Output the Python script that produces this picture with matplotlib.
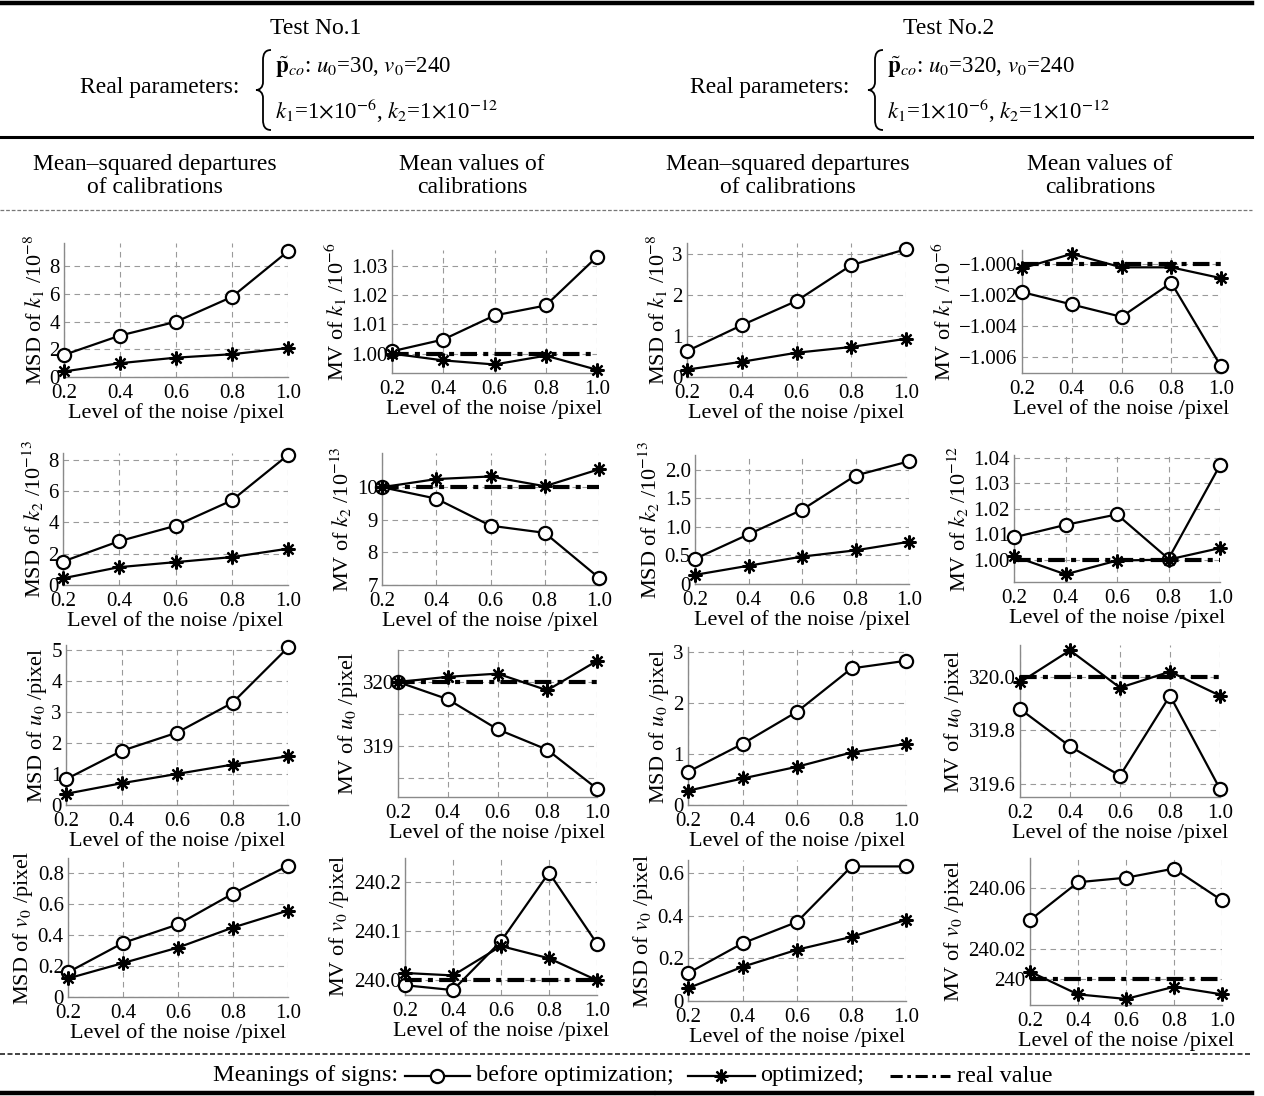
import matplotlib
matplotlib.use('Agg')
import matplotlib.pyplot as plt
from matplotlib.lines import Line2D
from matplotlib.path import Path
from matplotlib.patches import PathPatch

plt.rcParams['font.family'] = ['Liberation Serif', 'DejaVu Serif']
plt.rcParams['mathtext.fontset'] = 'stix'

# -----------------------------
# data
# -----------------------------
noise = [0.2, 0.4, 0.6, 0.8, 1.0]
noise_labels = ['0.2', '0.4', '0.6', '0.8', '1.0']

# Test No.1
t1_msd_k1_before = [1.6, 3.0, 4.0, 5.8, 9.1]
t1_msd_k1_opt = [0.4, 1.0, 1.4, 1.65, 2.1]
t1_mv_k1_before = [1.0008, 1.0048, 1.0130, 1.0164, 1.0330]
t1_mv_k1_opt = [1.0000, 0.9977, 0.9963, 0.9993, 0.9945]
t1_mv_k1_real = 1.0
t1_msd_k2_before = [1.5, 2.8, 3.78, 5.4, 8.3]
t1_msd_k2_opt = [0.43, 1.14, 1.46, 1.78, 2.32]
t1_mv_k2_before = [10.0, 9.65, 8.82, 8.6, 7.22]
t1_mv_k2_opt = [10.0, 10.25, 10.33, 10.03, 10.55]
t1_mv_k2_real = 10.0
t1_msd_u0_before = [0.83, 1.74, 2.33, 3.29, 5.07]
t1_msd_u0_opt = [0.36, 0.70, 1.0, 1.3, 1.57]
t1_mv_u0_before = [320.0, 319.73, 319.26, 318.94, 318.33]
t1_mv_u0_opt = [320.0, 320.08, 320.13, 319.87, 320.33]
t1_mv_u0_real = 320.0
t1_msd_v0_before = [0.16, 0.35, 0.47, 0.67, 0.85]
t1_msd_v0_opt = [0.12, 0.22, 0.32, 0.45, 0.56]
t1_mv_v0_before = [239.99, 239.98, 240.08, 240.22, 240.075]
t1_mv_v0_opt = [240.015, 240.01, 240.07, 240.045, 240.0]
t1_mv_v0_real = 240.0

# Test No.2
t2_msd_k1_before = [0.63, 1.26, 1.85, 2.72, 3.11]
t2_msd_k1_opt = [0.18, 0.37, 0.59, 0.73, 0.93]
t2_mv_k1_before = [-1.0018, -1.0026, -1.0034, -1.0012, -1.0066]
t2_mv_k1_opt = [-1.00026, -0.99933, -1.0002, -1.0002, -1.0009]
t2_mv_k1_real = -1.0
t2_msd_k2_before = [0.44, 0.87, 1.30, 1.90, 2.15]
t2_msd_k2_opt = [0.16, 0.32, 0.48, 0.59, 0.74]
t2_mv_k2_before = [1.0087, 1.0136, 1.0177, 1.0003, 1.037]
t2_mv_k2_opt = [1.0013, 0.9942, 0.9996, 1.0, 1.0045]
t2_mv_k2_real = 1.0
t2_msd_u0_before = [0.65, 1.2, 1.83, 2.68, 2.83]
t2_msd_u0_opt = [0.28, 0.52, 0.75, 1.03, 1.2]
t2_mv_u0_before = [319.88, 319.74, 319.63, 319.93, 319.58]
t2_mv_u0_opt = [319.98, 320.10, 319.96, 320.02, 319.93]
t2_mv_u0_real = 320.0
t2_msd_v0_before = [0.13, 0.27, 0.37, 0.63, 0.63]
t2_msd_v0_opt = [0.06, 0.16, 0.24, 0.30, 0.38]
t2_mv_v0_before = [240.039, 240.064, 240.067, 240.073, 240.052]
t2_mv_v0_opt = [240.005, 239.99, 239.987, 239.995, 239.99]
t2_mv_v0_real = 240.0

W, H = 1264, 1096
fig = plt.figure(figsize=(W / 100, H / 100), dpi=100)


def px_axes(l, t, r, b):
    return fig.add_axes([l / W, 1 - b / H, (r - l) / W, (b - t) / H])


def fx(x):
    return x / W


def fy(y):
    return 1 - y / H


def panel(box, before, opt, real, ylabel, ylim, yticks, yticklabels):
    ax = px_axes(*box)
    ax.plot(noise, before, '-', color='k', lw=1.6, marker='o', ms=9.5,
            mfc='white', mec='k', mew=1.6, clip_on=False, zorder=3)
    ax.plot(noise, opt, '-', color='k', lw=1.6, marker=(8, 2, 0), ms=10,
            mec='k', mew=1.6, clip_on=False, zorder=3)
    if real is not None:
        ax.plot(noise, [real] * len(noise), color='k', lw=3,
                ls=(0, (4, 1.5, 1.2, 1.5)), zorder=4)
    ax.set_xlim(noise[0], noise[-1])
    ax.set_xticks(noise)
    ax.set_xticklabels(noise_labels)
    ax.set_ylim(*ylim)
    ax.set_yticks(yticks)
    ax.set_yticklabels(yticklabels)
    ax.grid(True, ls=(0, (5, 4)), color='#9a9a9a', lw=0.8)
    for s in ['top', 'right']:
        ax.spines[s].set_visible(False)
    for s in ['left', 'bottom']:
        ax.spines[s].set_color('#8a8a8a')
        ax.spines[s].set_linewidth(1.0)
    ax.tick_params(length=0, labelsize=15, pad=3)
    ax.tick_params(axis='x', pad=5)
    ax.set_xlabel('Level of the noise /pixel', fontsize=16, labelpad=0)
    ax.set_ylabel(ylabel, fontsize=16, labelpad=2)
    ax.patch.set_alpha(0)
    return ax


def labs(vals, fmt):
    return [fmt.format(v).replace('-', '\u2212') for v in vals]


# row 1: k1
panel((64, 243, 288, 377), t1_msd_k1_before, t1_msd_k1_opt, None,
      r'MSD of $k_1$ /10$^{-8}$', (0, 9.7), [0, 2, 4, 6, 8], labs([0, 2, 4, 6, 8], '{:g}'))
panel((392, 250, 597, 373), t1_mv_k1_before, t1_mv_k1_opt, t1_mv_k1_real,
      r'MV of $k_1$ /10$^{-6}$', (0.9934, 1.0353), [1.00, 1.01, 1.02, 1.03],
      labs([1.00, 1.01, 1.02, 1.03], '{:.2f}'))
panel((687, 243, 906, 377), t2_msd_k1_before, t2_msd_k1_opt, None,
      r'MSD of $k_1$ /10$^{-8}$', (0, 3.26), [0, 1, 2, 3], labs([0, 1, 2, 3], '{:g}'))
panel((1022, 250, 1221, 373), t2_mv_k1_before, t2_mv_k1_opt, t2_mv_k1_real,
      r'MV of $k_1$ /10$^{-6}$', (-1.00703, -0.99908), [-1.006, -1.004, -1.002, -1.000],
      labs([-1.006, -1.004, -1.002, -1.000], '{:.3f}'))

# row 2: k2
panel((63, 453, 288, 585), t1_msd_k2_before, t1_msd_k2_opt, None,
      r'MSD of $k_2$ /10$^{-13}$', (0, 8.43), [0, 2, 4, 6, 8], labs([0, 2, 4, 6, 8], '{:g}'))
panel((382, 453, 599, 585), t1_mv_k2_before, t1_mv_k2_opt, t1_mv_k2_real,
      r'MV of $k_2$ /10$^{-13}$', (7, 11.05), [7, 8, 9, 10], labs([7, 8, 9, 10], '{:g}'))
panel((695, 455, 909, 584), t2_msd_k2_before, t2_msd_k2_opt, None,
      r'MSD of $k_2$ /10$^{-13}$', (0, 2.26), [0, 0.5, 1.0, 1.5, 2.0],
      ['0', '0.5', '1.0', '1.5', '2.0'])
panel((1014, 455, 1220, 582), t2_mv_k2_before, t2_mv_k2_opt, t2_mv_k2_real,
      r'MV of $k_2$ /10$^{-12}$', (0.9912, 1.041), [1.00, 1.01, 1.02, 1.03, 1.04],
      labs([1.00, 1.01, 1.02, 1.03, 1.04], '{:.2f}'))

# row 3: u0
panel((66, 645, 288, 805), t1_msd_u0_before, t1_msd_u0_opt, None,
      r'MSD of $u_0$ /pixel', (0, 5.15), [0, 1, 2, 3, 4, 5], labs([0, 1, 2, 3, 4, 5], '{:g}'))
panel((398, 650, 597, 797), t1_mv_u0_before, t1_mv_u0_opt, t1_mv_u0_real,
      r'MV of $u_0$ /pixel', (318.2, 320.5), [318.5, 319, 319.5, 320, 320.5],
      ['', '319', '', '320', ''])
panel((688, 647, 906, 805), t2_msd_u0_before, t2_msd_u0_opt, None,
      r'MSD of $u_0$ /pixel', (0, 3.1), [0, 1, 2, 3], labs([0, 1, 2, 3], '{:g}'))
panel((1020, 645, 1220, 797), t2_mv_u0_before, t2_mv_u0_opt, t2_mv_u0_real,
      r'MV of $u_0$ /pixel', (319.55, 320.12), [319.6, 319.8, 320.0],
      labs([319.6, 319.8, 320.0], '{:.1f}'))

# row 4: v0
panel((68, 858, 288, 997), t1_msd_v0_before, t1_msd_v0_opt, None,
      r'MSD of $v_0$ /pixel', (0, 0.9), [0, 0.2, 0.4, 0.6, 0.8],
      ['0', '0.2', '0.4', '0.6', '0.8'])
panel((405, 858, 597, 995), t1_mv_v0_before, t1_mv_v0_opt, t1_mv_v0_real,
      r'MV of $v_0$ /pixel', (239.97, 240.25), [240.0, 240.1, 240.2],
      labs([240.0, 240.1, 240.2], '{:.1f}'))
panel((688, 860, 906, 1001), t2_msd_v0_before, t2_msd_v0_opt, None,
      r'MSD of $v_0$ /pixel', (0, 0.66), [0, 0.2, 0.4, 0.6],
      ['0', '0.2', '0.4', '0.6'])
panel((1030, 858, 1222, 1005), t2_mv_v0_before, t2_mv_v0_opt, t2_mv_v0_real,
      r'MV of $v_0$ /pixel', (239.983, 240.08), [240.0, 240.02, 240.06],
      ['240', '240.02', '240.06'])

# -----------------------------
# header table
# -----------------------------
def hline(y, x0, x1, **kw):
    fig.add_artist(Line2D([fx(x0), fx(x1)], [fy(y), fy(y)], transform=fig.transFigure, **kw))


hline(3, 0, 1252, color='k', lw=3.2)
hline(137, 0, 1252, color='k', lw=2.2)
hline(210, 0, 1252, color='#777777', lw=0.9, ls=(0, (3, 1.5)))
hline(1054, 0, 1252, color='#222222', lw=1.2, ls=(0, (3, 1.5)))
hline(1093, 0, 653, color='k', lw=3.2)
hline(1093, 657, 1252, color='k', lw=3.2)


def brace(x, y0, y1):
    ym = (y0 + y1) / 2
    pts = [(x + 8, y0), (x + 2, y0), (x, y0 + 4), (x, y0 + 10),
           (x, ym - 8),
           (x, ym - 3), (x - 3, ym), (x - 7, ym),
           (x - 3, ym), (x, ym + 3), (x, ym + 8),
           (x, y1 - 10),
           (x, y1 - 4), (x + 2, y1), (x + 8, y1)]
    codes = [Path.MOVETO, Path.CURVE4, Path.CURVE4, Path.CURVE4,
             Path.LINETO,
             Path.CURVE4, Path.CURVE4, Path.CURVE4,
             Path.CURVE4, Path.CURVE4, Path.CURVE4,
             Path.LINETO,
             Path.CURVE4, Path.CURVE4, Path.CURVE4]
    verts = [(fx(px), fy(py)) for px, py in pts]
    fig.add_artist(PathPatch(Path(verts, codes), transform=fig.transFigure,
                             fill=False, lw=1.3, color='k'))


tests = [
    ('Test No.1', 316, 160, 263, r'$\tilde{\mathbf{p}}_{co}$: $u_0$=30, $v_0$=240'),
    ('Test No.2', 949, 770, 875, r'$\tilde{\mathbf{p}}_{co}$: $u_0$=320, $v_0$=240'),
]
for title, xc, xr, xb, line1 in tests:
    fig.text(fx(xc), fy(28), title, fontsize=17, ha='center', va='center')
    fig.text(fx(xr), fy(88), 'Real parameters:', fontsize=17, ha='center', va='center')
    brace(xb, 50, 130)
    fig.text(fx(xb + 12), fy(67), line1, fontsize=16.5, ha='left', va='center')
    fig.text(fx(xb + 12), fy(111), r'$k_1$=1$\times$10$^{-6}$, $k_2$=1$\times$10$^{-12}$',
             fontsize=16.5, ha='left', va='center')

for xc in [155, 788]:
    fig.text(fx(xc), fy(176), 'Mean\u2013squared departures\nof calibrations', fontsize=17,
             ha='center', va='center', linespacing=1.1)
for xc in [472, 1100]:
    fig.text(fx(xc), fy(176), 'Mean values of\ncalibrations', fontsize=17,
             ha='center', va='center', linespacing=1.1)

# -----------------------------
# legend row
# -----------------------------
ly = fy(1076)
fig.text(fx(398), ly, 'Meanings of signs:', fontsize=17.5, ha='right', va='center')
fig.add_artist(Line2D([fx(405), fx(437), fx(470)], [ly] * 3, transform=fig.transFigure,
                      color='k', lw=1.6, marker='o', ms=9.5, mfc='white', mew=1.6, markevery=[1]))
fig.text(fx(476), ly, 'before optimization;', fontsize=17.5, ha='left', va='center')
fig.add_artist(Line2D([fx(688), fx(721), fx(755)], [ly] * 3, transform=fig.transFigure,
                      color='k', lw=1.6, marker=(8, 2, 0), ms=10, mew=1.6, markevery=[1]))
fig.text(fx(760), ly, 'optimized;', fontsize=17.5, ha='left', va='center')
fig.add_artist(Line2D([fx(890), fx(950)], [ly] * 2, transform=fig.transFigure,
                      color='k', lw=2.2, ls=(0, (4, 1.5, 1.2, 1.5))))
fig.text(fx(957), ly, 'real value', fontsize=17.5, ha='left', va='center')

fig.savefig('out.png', dpi=100, facecolor='white')
